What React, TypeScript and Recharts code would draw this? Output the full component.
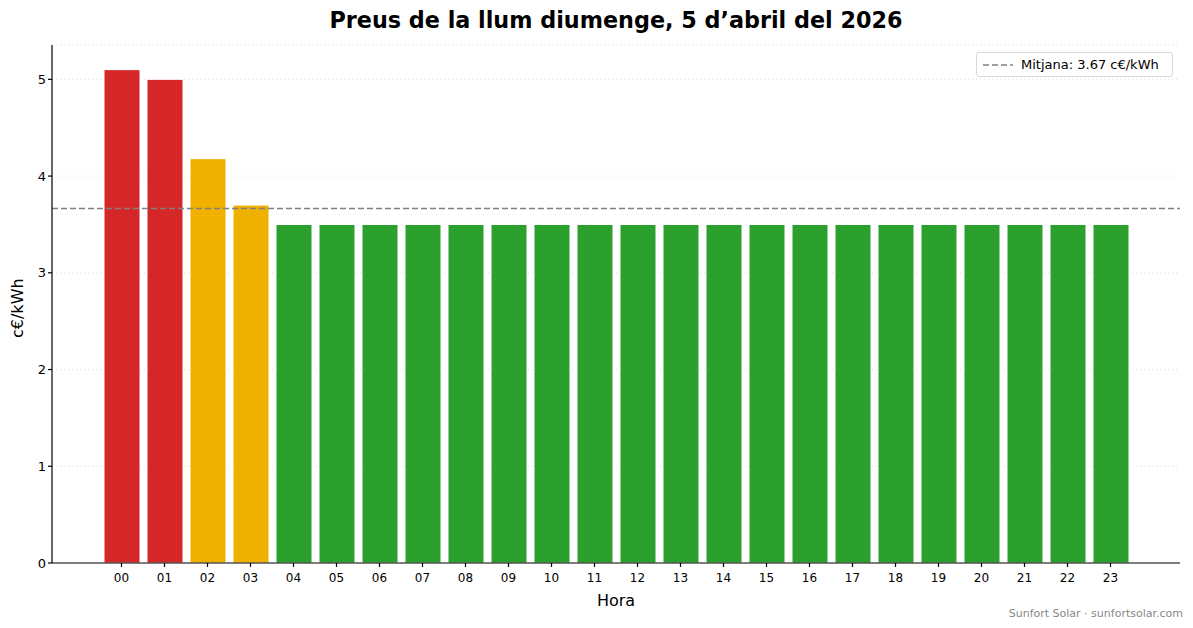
import { BarChart, Bar, XAxis, YAxis, CartesianGrid, ReferenceLine, Cell } from 'recharts';

const hores = ['00', '01', '02', '03', '04', '05', '06', '07', '08', '09', '10', '11', '12', '13', '14', '15', '16', '17', '18', '19', '20', '21', '22', '23'];
const preus = [5.1, 5.0, 4.18, 3.7, 3.5, 3.5, 3.5, 3.5, 3.5, 3.5, 3.5, 3.5, 3.5, 3.5, 3.5, 3.5, 3.5, 3.5, 3.5, 3.5, 3.5, 3.5, 3.5, 3.5];
const yTicks = [0, 1, 2, 3, 4, 5];

const mitjana = preus.reduce((a, b) => a + b, 0) / preus.length;

const colorFor = (p: number) => {
  if (p >= mitjana * 1.25) return '#d62728';
  if (p >= mitjana) return '#f0b000';
  return '#2ca02c';
};

const FONT = '"DejaVu Sans", sans-serif';
const AXIS = { stroke: '#000', strokeWidth: 1.2 };

export default function App() {
  const data = hores.map((h, i) => ({ hora: h, preu: preus[i] }));
  const yMax = Math.max(...preus) * 1.05;

  return (
    <div style={{ position: 'absolute', left: 0, top: 0, width: 1193, height: 628, background: '#fff', fontFamily: FONT }}>
      <div style={{ position: 'absolute', left: 0, width: 1232, top: 7, textAlign: 'center', fontSize: 22.3, fontWeight: 'bold', color: '#000' }}>
        Preus de la llum diumenge, 5 d’abril del 2026
      </div>
      <div style={{ position: 'absolute', top: 0, left: 0 }}>
        <BarChart width={1193} height={628} data={data} margin={{ top: 45, right: 13, bottom: 35, left: 0 }}>
          <CartesianGrid horizontal vertical={false} stroke="#dddddd" strokeDasharray="1 3" />
          <XAxis
            dataKey="hora"
            padding={{ left: 48, right: 48 }}
            tickSize={4}
            axisLine={AXIS}
            tickLine={AXIS}
            tick={{ fill: '#000', fontSize: 12, fontFamily: FONT, dy: 4 }}
            interval={0}
            height={30}
            label={{ value: 'Hora', position: 'insideBottom', offset: -13, fill: '#000', fontSize: 16, fontFamily: FONT }}
          />
          <YAxis
            width={52}
            domain={[0, yMax]}
            ticks={yTicks}
            tickSize={4}
            axisLine={AXIS}
            tickLine={AXIS}
            tick={{ fill: '#000', fontSize: 13, fontFamily: FONT }}
            label={{ value: 'c€/kWh', angle: -90, position: 'insideLeft', offset: 17, dy: 34, fill: '#000', fontSize: 16, fontFamily: FONT }}
          />
          <Bar dataKey="preu" barSize={36} stroke="#ffffff" strokeWidth={1} isAnimationActive={false}>
            {data.map((d, i) => (
              <Cell key={i} fill={colorFor(d.preu)} />
            ))}
          </Bar>
          <ReferenceLine y={mitjana} stroke="#808080" strokeWidth={1.5} strokeDasharray="6 3" />
        </BarChart>
      </div>
      <div
        style={{
          position: 'absolute',
          left: 976,
          top: 52,
          width: 195,
          height: 23,
          border: '1px solid #d8d8d8',
          borderRadius: 3,
          background: 'rgba(255,255,255,0.8)',
          display: 'flex',
          alignItems: 'center',
          fontSize: 13,
          color: '#000',
        }}
      >
        <svg width={40} height={10} style={{ marginLeft: 4 }}>
          <line x1={2} y1={5} x2={32} y2={5} stroke="#808080" strokeWidth={1.5} strokeDasharray="6 3" />
        </svg>
        <span>Mitjana: {mitjana.toFixed(2)} c€/kWh</span>
      </div>
      <div style={{ position: 'absolute', right: 10, top: 607, fontSize: 11, color: '#888' }}>
        Sunfort Solar · sunfortsolar.com
      </div>
    </div>
  );
}
